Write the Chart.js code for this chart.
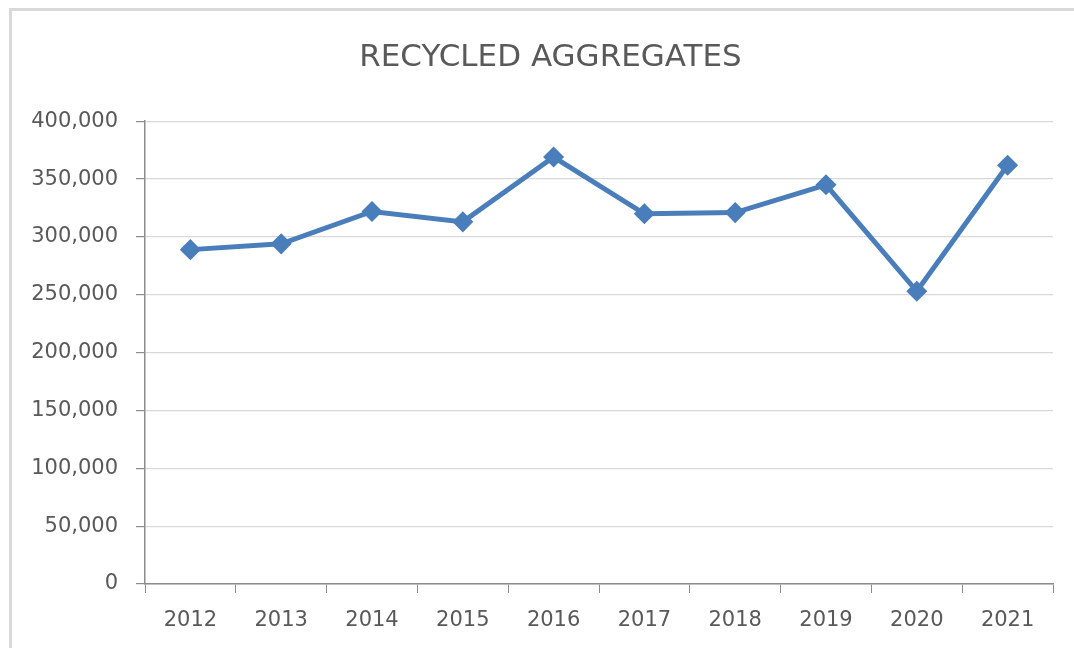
<!DOCTYPE html>
<html>
<head>
<meta charset="utf-8">
<script src="https://cdn.jsdelivr.net/npm/chart.js@4.4.0/dist/chart.umd.min.js"></script>
<style>
  html, body { margin:0; padding:0; background:#fff; }
  #frame { position:absolute; left:9px; top:8px; width:1100px; height:700px; border:3px solid #d9d9d9; box-sizing:border-box; }
  #wrap { position:absolute; left:0; top:0; width:1074px; height:648px; }
</style>
</head>
<body>
<div id="frame"></div>
<div id="wrap"><canvas id="chart"></canvas></div>
<script>
// data
const years = ['2012','2013','2014','2015','2016','2017','2018','2019','2020','2021'];
const tonnes = [289000, 294000, 322000, 313000, 369000, 320000, 321000, 345000, 253000, 362000];
const yTicks = [0, 50000, 100000, 150000, 200000, 250000, 300000, 350000, 400000];

const FONT = "'DejaVu Sans', sans-serif";
const TXT = '#595959';

// nudge the title block so it centres a bit right of the canvas middle, like the original
const titleShift = {
  id: 'titleShift',
  afterLayout(chart) {
    if (chart.titleBlock) chart.titleBlock.left = 48;
  }
};

new Chart(document.getElementById('chart'), {
  type: 'line',
  data: {
    labels: years,
    datasets: [{
      label: 'Recycled aggregates',
      data: tonnes,
      borderColor: '#4a7ebb',
      backgroundColor: '#4a7ebb',
      borderWidth: 5,
      pointStyle: 'rectRot',
      pointRadius: 7,
      pointHoverRadius: 7,
      tension: 0
    }]
  },
  options: {
    responsive: true,
    maintainAspectRatio: false,
    animation: false,
    layout: { padding: { left: 0, right: 21, top: 0, bottom: 0 } },
    plugins: {
      legend: { display: false },
      tooltip: { enabled: false },
      title: {
        display: true,
        text: 'RECYCLED AGGREGATES',
        color: TXT,
        font: { family: FONT, size: 31, weight: 'normal' },
        padding: { top: 39, bottom: 45 }
      }
    },
    scales: {
      x: {
        offset: true,
        grid: { offset: true, drawOnChartArea: false, color: '#8c8c8c', tickColor: '#8c8c8c', tickLength: 9 },
        border: { color: '#8c8c8c', width: 1.5 },
        ticks: { color: TXT, font: { family: FONT, size: 21 }, padding: 15, maxRotation: 0 },
        afterFit: s => { s.height = 64; }
      },
      y: {
        min: 0,
        max: 400000,
        afterBuildTicks: s => { s.ticks = yTicks.map(v => ({ value: v })); },
        grid: { color: '#d9d9d9', tickColor: '#8c8c8c', tickLength: 9, lineWidth: 1.2 },
        border: { color: '#8c8c8c', width: 1.5 },
        ticks: {
          color: TXT,
          font: { family: FONT, size: 21 },
          padding: 18,
          callback: v => v.toLocaleString('en-US')
        },
        afterFit: s => { s.width = 145; }
      }
    }
  },
  plugins: [titleShift]
});
</script>
</body>
</html>
